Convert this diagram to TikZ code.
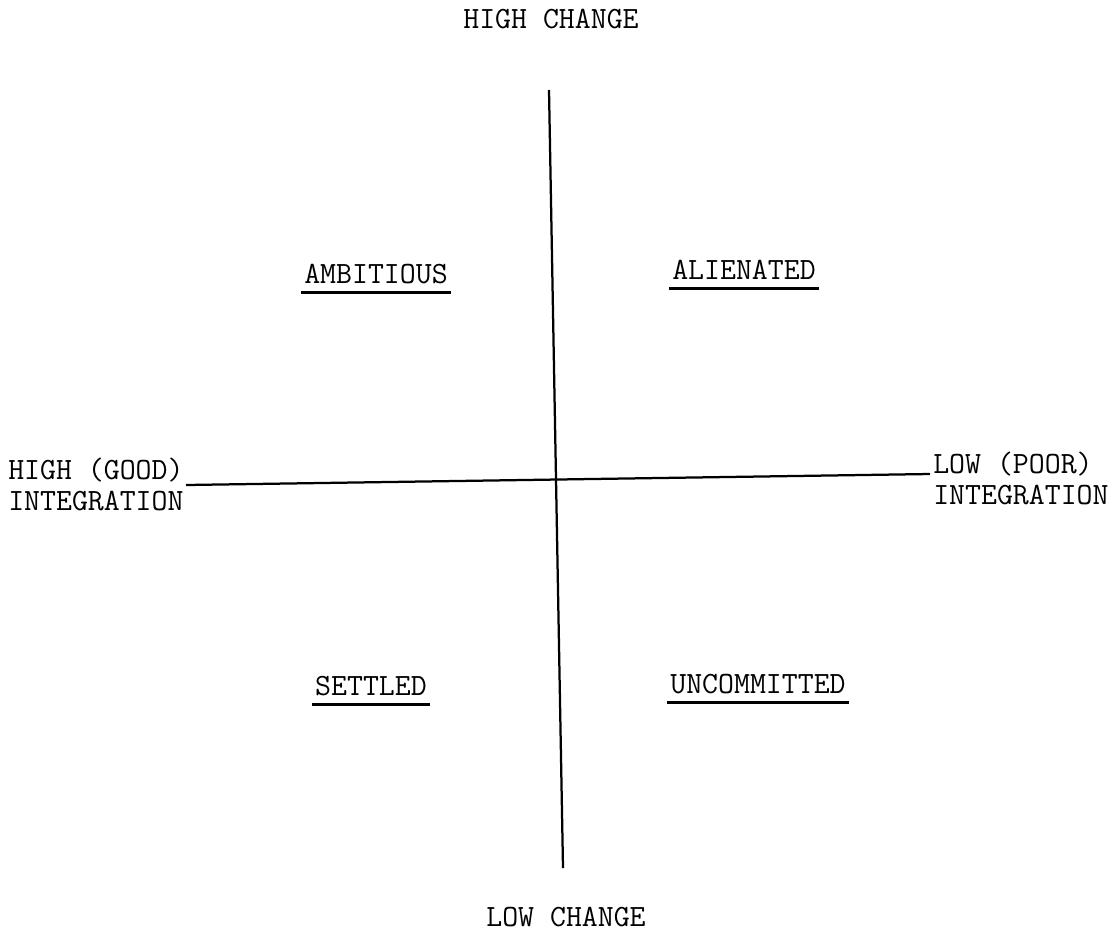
\documentclass[tikz,border=0pt]{standalone}
\usetikzlibrary{positioning}
\begin{document}
\begin{tikzpicture}[x=0.025cm,y=-0.025cm,
  lbl/.style={font=\ttfamily\fontsize{22}{22}\selectfont,inner xsep=2pt,inner ysep=6.4pt,anchor=base},
  title/.style={font=\ttfamily\fontsize{22}{22}\selectfont,inner sep=1pt,anchor=base},
  side/.style={font=\ttfamily\fontsize{22}{22}\selectfont,inner sep=0pt,align=left},
  uline/.style={line width=2pt},
  axis/.style={line width=1.6pt}]
\useasboundingbox (0,0) rectangle (1117,936);
% axis titles
\node[title] (hichange) at (551,28) {HIGH CHANGE};
\node[title] (lochange) at (566,926) {LOW CHANGE};
\node[side,anchor=north west] (hiinteg) at (8,458) {HIGH (GOOD)\\INTEGRATION};
\node[side,anchor=north west] (lointeg) at (933,452) {LOW (POOR)\\INTEGRATION};
% axes
\coordinate (vtop) at (549,90);
\coordinate (vbot) at (563,868);
\coordinate (hleft) at (186,485);
\coordinate (hright) at (930,474);
\draw[axis] (vtop) -- (vbot);
\draw[axis] (hleft) -- (hright);
% quadrants
\node[lbl] (ambitious) at (376,283) {AMBITIOUS};
\node[lbl] (alienated) at (744,279) {ALIENATED};
\node[lbl] (settled) at (371,695) {SETTLED};
\node[lbl] (uncommitted) at (758,693) {UNCOMMITTED};
\draw[uline] (ambitious.south west) -- (ambitious.south east);
\draw[uline] (alienated.south west) -- (alienated.south east);
\draw[uline] (settled.south west) -- (settled.south east);
\draw[uline] (uncommitted.south west) -- (uncommitted.south east);
\end{tikzpicture}
\end{document}
